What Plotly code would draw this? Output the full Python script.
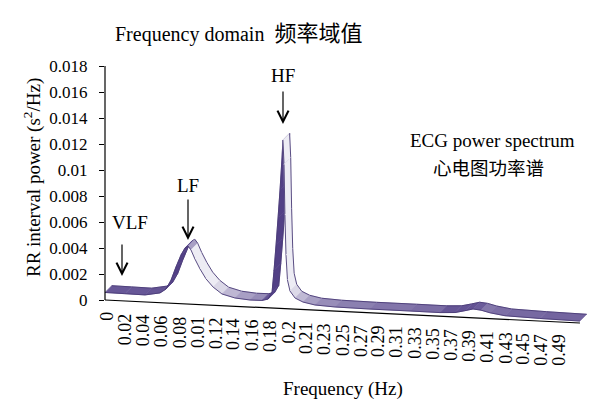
import math
import plotly.graph_objects as go

# labels printed under the frequency axis (kept as printed)
freq_labels = ['0', '0.02', '0.04', '0.06', '0.08', '0.01', '0.12', '0.14', '0.16', '0.18',
               '0.2', '0.21', '0.23', '0.25', '0.27', '0.29', '0.31', '0.33', '0.35', '0.37',
               '0.39', '0.41', '0.43', '0.45', '0.47', '0.49']

# spectrum; position in label slots (0 = "0" ... 25 = "0.49")
spec_slot = [-0.11, 0.99, 2.10, 2.93, 3.26, 3.54, 3.81, 4.09, 4.31, 4.48,
             4.64, 4.86, 5.14, 5.47, 5.86, 6.35, 7.07, 7.90, 8.56, 8.90,
             9.12, 9.23, 9.34, 9.45, 9.56, 9.67, 9.72, 9.78, 9.83, 9.89,
             9.97, 10.11, 10.39, 10.83, 11.49, 12.60, 14.53, 16.74, 18.40, 19.23,
             19.78, 20.22, 20.66, 21.16, 21.99, 23.92, 26.13]
spec_power = [0.00058, 0.00056, 0.00054, 0.00075, 0.00107, 0.00178, 0.0028, 0.00375, 0.0043, 0.00446,
              0.00417, 0.00348, 0.00274, 0.0020, 0.0014, 0.0009, 0.00064, 0.00054, 0.00055, 0.00068,
              0.00123, 0.00292, 0.00487, 0.00695, 0.00912, 0.01158, 0.01297, 0.0111, 0.00721, 0.00413,
              0.00222, 0.00138, 0.00086, 0.00058, 0.0004, 0.00032, 0.00029, 0.00029, 0.00028, 0.00034,
              0.00052, 0.00068, 0.00062, 0.00045, 0.00028, 0.0002, 0.00015]

power_ticks = [0, 0.002, 0.004, 0.006, 0.008, 0.01, 0.012, 0.014, 0.016, 0.018]
power_ticktext = ['0', '0.002', '0.004', '0.006', '0.008', '0.01', '0.012', '0.014', '0.016', '0.018']

FONT = 'Liberation Serif, Noto Sans CJK SC, serif'
PURPLE = (102, 86, 150)
DARK = (82, 64, 134)
LIGHT = (237, 236, 244)
EDGE = 'rgb(72,58,118)'

# the page puts the figure 8px in from the top-left corner;
# plot area on the page: x 105..590, y 60..372
X0, X1 = -2 / 18.1, 483 / 18.1
Y0, Y1 = -72 / 13000, 240 / 13000
SLANT = 6.742e-5        # floor of the drawing drops to the right
DX, DY = 0.37, 0.00052  # depth offset of the ribbon's back edge


def floor(s):
    return -SLANT * (s - X0)


def px(x):
    return (x - 105) / 485


def py(y):
    return (372 - y) / 312


def mix(a, b, t):
    return 'rgb(%d,%d,%d)' % tuple(round(a[k] + (b[k] - a[k]) * t) for k in range(3))


fig = go.Figure()

# slanted frequency axis
fig.add_trace(go.Scatter(x=[spec_slot[0], spec_slot[-1]],
                         y=[floor(spec_slot[0]), floor(spec_slot[-1])],
                         mode='lines', line=dict(color='black', width=1.2), hoverinfo='skip'))

# ribbon: one face per segment, drawn left to right, shaded by its slope
t_prev = 0
for i in range(len(spec_slot) - 1):
    fx = [spec_slot[i], spec_slot[i + 1]]
    fy = [spec_power[i] + floor(spec_slot[i]), spec_power[i + 1] + floor(spec_slot[i + 1])]
    bx = [v + DX for v in fx]
    by = [v + DY for v in fy]

    ex = (fx[1] - fx[0]) * 18.1
    ey = (fy[1] - fy[0]) * 13000
    ang = math.degrees(math.atan2(ey, ex))
    if ang >= 0:
        col = mix(PURPLE, DARK, min(ang / 70, 1))
        t_prev = 0
    else:
        t = min(max((-ang - 2.8) / 20, 0), 1) * min(-ey / 8, 1)
        t = max(t, 0.75 * t_prev)
        t_prev = t
        col = mix(PURPLE, LIGHT, t)

    fig.add_trace(go.Scatter(x=fx + bx[::-1] + [fx[0]], y=fy + by[::-1] + [fy[0]],
                             mode='lines', fill='toself', fillcolor=col,
                             line=dict(color=col, width=0.6), hoverinfo='skip'))
    fig.add_trace(go.Scatter(x=fx + [None] + bx, y=fy + [None] + by, mode='lines',
                             line=dict(color=EDGE, width=0.9), hoverinfo='skip'))

# y axis line
fig.add_shape(type='line', xref='paper', yref='y', x0=0, x1=0, y0=0, y1=0.018,
              line=dict(color='black', width=1.2))

ann = []
for i, lab in enumerate(freq_labels):
    ann.append(dict(x=i, y=floor(i) - 0.00078, xref='x', yref='y', text=lab, textangle=-90,
                    showarrow=False, xanchor='center', yanchor='top', font=dict(size=18)))

texts = [
    ('Frequency domain  <span style="font-size:22px">频率域值</span>', 113, 33, 'left', 20),
    ('HF', 283, 75, 'center', 19),
    ('LF', 188, 185, 'center', 19),
    ('VLF', 130, 223, 'center', 19),
    ('ECG power spectrum', 492, 140, 'center', 19),
    ('心电图功率谱', 488, 169, 'center', 18.5),
    ('Frequency (Hz)', 343, 389, 'center', 19),
]
for t, x, y, xa, sz in texts:
    ann.append(dict(x=px(x), y=py(y), xref='paper', yref='paper', text=t, showarrow=False,
                    xanchor=xa, yanchor='middle', font=dict(size=sz)))

ann.append(dict(x=px(32), y=py(178), xref='paper', yref='paper', textangle=-90,
                text='RR interval power (s<sup>2</sup>/Hz)', showarrow=False,
                xanchor='center', yanchor='middle', font=dict(size=19)))

# arrows: (x, tip y, tail y) in page pixels
for x, y_tip, y_tail in [(283, 124, 90), (188, 240, 198), (122, 276, 243)]:
    ann.append(dict(x=px(x), y=py(y_tip), xref='paper', yref='paper', text='',
                    showarrow=True, ax=0, ay=-(y_tip - y_tail), arrowhead=5,
                    arrowsize=1.8, arrowwidth=1.2, arrowcolor='black'))

fig.update_layout(
    width=592, height=406,
    margin=dict(l=97, r=10, t=52, b=42),
    paper_bgcolor='white', plot_bgcolor='white',
    showlegend=False,
    font=dict(family=FONT, size=18, color='black'),
    xaxis=dict(visible=False, range=[X0, X1], fixedrange=True),
    yaxis=dict(range=[Y0, Y1], tickvals=power_ticks, ticktext=power_ticktext,
               ticks='outside', ticklen=5, tickwidth=1, tickcolor='black',
               showgrid=False, zeroline=False, showline=False,
               tickfont=dict(size=17), ticklabelstandoff=8, fixedrange=True),
    annotations=ann,
)

fig.write_html('out.html')
